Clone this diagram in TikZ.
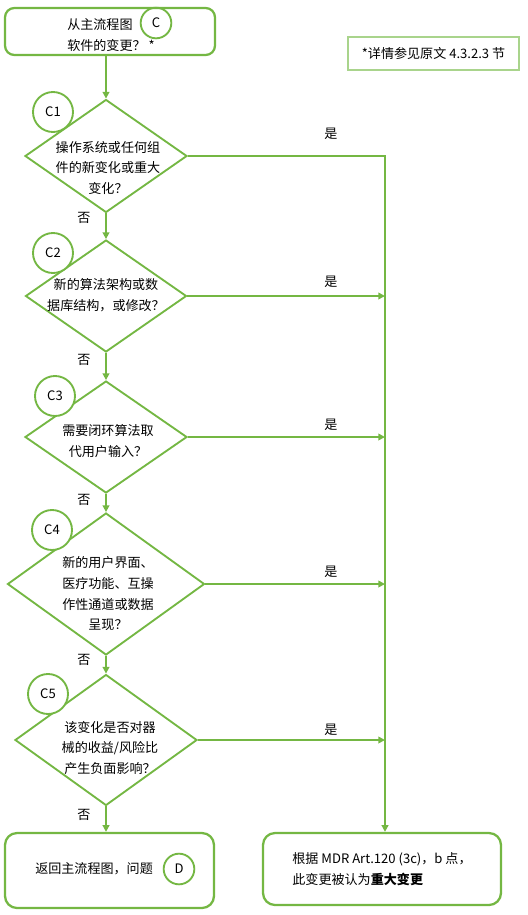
\documentclass[tikz,border=0pt]{standalone}
\usepackage{fontspec}
\setmainfont{Noto Sans CJK SC}
\usetikzlibrary{arrows.meta, positioning, shapes.geometric, calc}
\definecolor{flgreen}{HTML}{74B743}
\definecolor{flnote}{HTML}{A9D48C}

\begin{document}
\begin{tikzpicture}[
  x=0.75pt, y=-0.75pt,
  font=\fontsize{9.8pt}{15.5pt}\selectfont,
  box/.style={rectangle, draw=flgreen, line width=1.7pt, rounded corners=7pt,
    fill=white, align=left, inner sep=0pt},
  note/.style={rectangle, draw=flnote, line width=1.4pt, inner sep=0pt,
    minimum width=128.25pt, minimum height=24.75pt},
  dia/.style={diamond, draw=flgreen, line width=1.4pt, inner sep=0pt},
  qtext/.style={align=center, inner sep=0pt},
  tag/.style={circle, draw=flgreen, line width=1.4pt, fill=white,
    minimum size=30pt, inner sep=0pt},
  link/.style={circle, draw=flgreen, line width=1.4pt,
    minimum size=23pt, inner sep=0pt},
  arr/.style={-{Triangle[length=5pt, width=5pt]}, line width=1.4pt, flgreen},
  ans/.style={inner sep=0pt},
]
  \useasboundingbox (0,0) rectangle (528,915);

  % start and note
  \node[box, minimum width=157.5pt, minimum height=35.25pt] (start) at (110,31.5) {};
  \node[ans, align=left, font=\fontsize{9.8pt}{16pt}\selectfont] (starttxt)
    at (111,35) {从主流程图\\软件的变更？ *};
  \node[link] (circC) at (156,23) {C};
  \node[note] (hint) at (433.5,53.5) {*详情参见原文 4.3.2.3 节};

  % questions
  \node[dia, minimum width=121.5pt, minimum height=84.75pt] (c1) at (106,156) {};
  \node[qtext] (t1) at (108,168) {操作系统或任何组\\件的新变化或重大\\变化？};
  \node[dia, minimum width=120.75pt, minimum height=84pt] (c2) at (106,296) {};
  \node[qtext] (t2) at (106,295) {新的算法架构或数\\据库结构，或修改？};
  \node[dia, minimum width=121.5pt, minimum height=84pt] (c3) at (106,437) {};
  \node[qtext] (t3) at (108,441) {需要闭环算法取\\代用户输入？};
  \node[dia, minimum width=147.75pt, minimum height=106.5pt] (c4) at (106,584) {};
  \node[qtext] (t4) at (108,594) {新的用户界面、\\医疗功能、互操\\作性通道或数据\\呈现？};
  \node[dia, minimum width=136.5pt, minimum height=98.25pt] (c5) at (106,740) {};
  \node[qtext] (t5) at (110,748) {该变化是否对器\\械的收益/风险比\\产生负面影响？};

  \node[tag] (k1) at (53,112) {C1};
  \node[tag] (k2) at (53,253) {C2};
  \node[tag] (k3) at (55,396) {C3};
  \node[tag] (k4) at (52,530) {C4};
  \node[tag] (k5) at (48,694) {C5};

  % outcomes
  \node[box, rounded corners=9pt, minimum width=156.75pt, minimum height=56.25pt]
    (back) at (109.5,870.5) {};
  \node[ans, anchor=west] (backtxt) at (35,869) {返回主流程图，问题};
  \node[link] (circD) at (179,869) {D};
  \node[box, rounded corners=9pt, minimum width=178.5pt, minimum height=54pt]
    (res) at (382,869) {根据 MDR Art.120 (3c)，b 点，\\此变更被认为\textbf{重大变更}};

  % connectors
  \coordinate (bus) at (385,156);
  \draw[arr] (c1.north |- start.south) -- (c1.north);
  \draw[arr] (c1) -- (c2);
  \draw[arr] (c2) -- (c3);
  \draw[arr] (c3) -- (c4);
  \draw[arr] (c4) -- (c5);
  \draw[arr] (c5.south) -- (c5.south |- back.north);
  \draw[arr] (c1.east) -- (bus) -- (bus |- res.north);
  \draw[arr] (c2.east) -- (c2.east -| bus);
  \draw[arr] (c3.east) -- (c3.east -| bus);
  \draw[arr] (c4.east) -- (c4.east -| bus);
  \draw[arr] (c5.east) -- (c5.east -| bus);

  % answers
  \node[ans] (y1) at (331,134) {是};
  \node[ans] (y2) at (331,282) {是};
  \node[ans] (y3) at (331,425) {是};
  \node[ans] (y4) at (331,572) {是};
  \node[ans] (y5) at (331,730) {是};
  \node[ans] (n1) at (84,218) {否};
  \node[ans] (n2) at (84,360) {否};
  \node[ans] (n3) at (84,500) {否};
  \node[ans] (n4) at (84,660) {否};
  \node[ans] (n5) at (84,815) {否};
\end{tikzpicture}
\end{document}
